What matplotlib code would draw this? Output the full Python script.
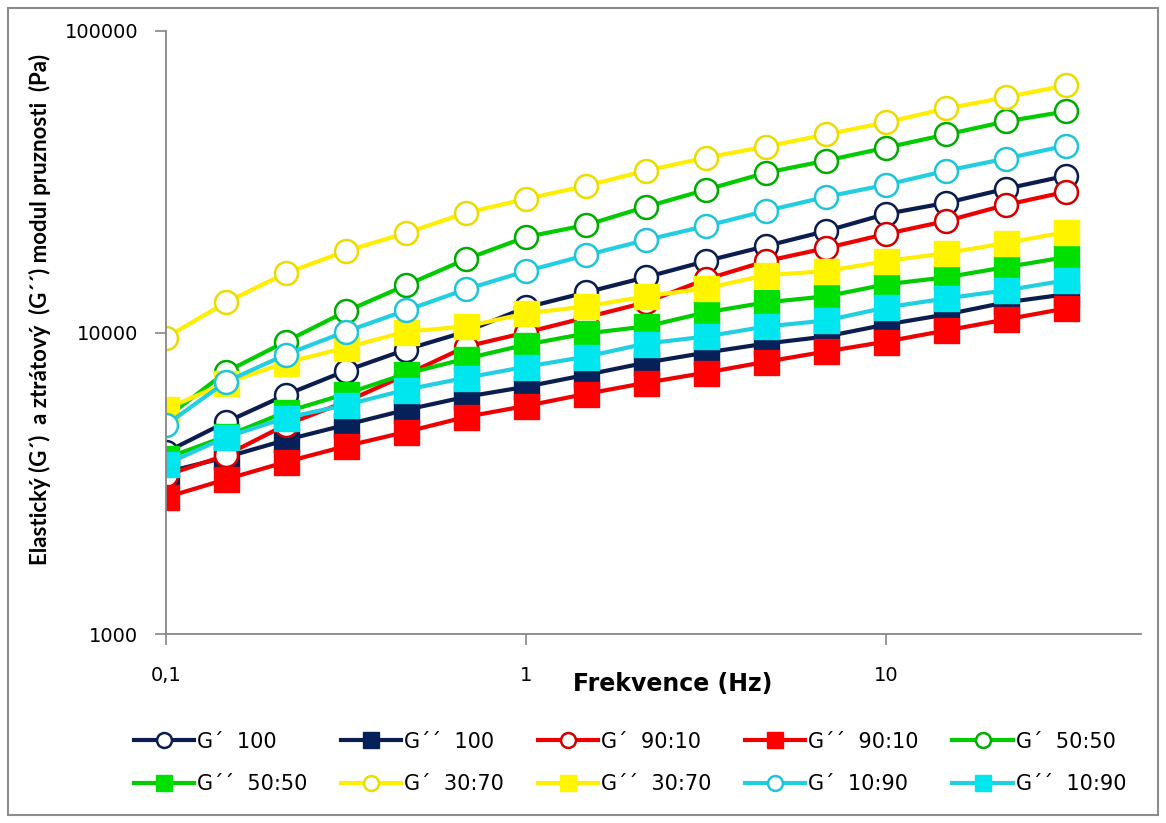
import matplotlib
matplotlib.use("Agg")
import matplotlib.pyplot as plt
from matplotlib.patches import Rectangle

# frekvence (Hz), 16 bodu
freq = [0.1, 0.147, 0.215, 0.316, 0.464, 0.681, 1.0, 1.47, 2.15, 3.16,
        4.64, 6.81, 10.0, 14.7, 21.5, 31.6]

g1_100 = [4010, 5050, 6210, 7470, 8780, 10070, 12110, 13590, 15250, 17250,
          19350, 21710, 24740, 26920, 29970, 33110]
g2_100 = [3440, 3860, 4400, 4940, 5540, 6120, 6610, 7240, 7940, 8580,
          9190, 9700, 10630, 11480, 12590, 13390]
g1_9010 = [3360, 3920, 4940, 5890, 7240, 8980, 10000, 11220, 12590, 15020,
           17250, 19050, 21230, 23440, 26500, 29290]
g2_9010 = [2840, 3260, 3720, 4200, 4680, 5250, 5710, 6260, 6810, 7360,
           8000, 8650, 9330, 10160, 11050, 12020]
g1_5050 = [5210, 7410, 9330, 11750, 14350, 17510, 20740, 22730, 26100, 29740,
           33880, 37150, 41040, 45370, 50120, 54120]
g2_5050 = [3830, 4530, 5450, 6260, 7300, 8190, 9120, 9930, 10470, 11660,
           12590, 13180, 14450, 15250, 16480, 17780]
g1_3070 = [9620, 12590, 15730, 18620, 21380, 24930, 27740, 30670, 34410, 38020,
           41380, 45370, 49770, 55340, 60260, 66070]
g2_3070 = [5580, 6810, 7940, 8910, 10070, 10470, 11570, 12210, 13180, 14020,
           15490, 15980, 17250, 18340, 19800, 21540]
g1_1090 = [4940, 6870, 8450, 10070, 11840, 13910, 15980, 18060, 20260, 22560,
           25320, 28180, 30900, 34410, 37740, 41690]
g2_1090 = [3660, 4500, 5210, 5750, 6460, 7080, 7700, 8320, 9190, 9700,
           10470, 10960, 12110, 12980, 13800, 14900]

labels = ["G´  100", "G´´  100", "G´  90:10", "G´´  90:10", "G´  50:50",
          "G´´  50:50", "G´  30:70", "G´´  30:70", "G´  10:90", "G´´  10:90"]
series = [g1_100, g2_100, g1_9010, g2_9010, g1_5050,
          g2_5050, g1_3070, g2_3070, g1_1090, g2_1090]

# (barva cary, okraj kolecka, vypln ctverce)
colors = [("#0B1C4E", "#0B1C4E", None), ("#0B1C4E", None, "#06205A"),
          ("#EE0000", "#D00000", None), ("#EE0000", None, "#FF0000"),
          ("#00CC00", "#00AA00", None), ("#00CC00", None, "#00E000"),
          ("#FFEE00", "#EADB00", None), ("#FFEE00", None, "#FFF500"),
          ("#22CFE0", "#20C4D8", None), ("#22CFE0", None, "#00E6EE")]

fig = plt.figure(figsize=(11.66, 8.23), dpi=100)
ax = fig.add_axes([166/1166, 1-634/823, (1141-166)/1166, (634-31)/823])

handles = []
for vals, lab, (lc, ce, sq) in zip(series, labels, colors):
    if sq is None:
        ln, = ax.plot(freq, vals, color=lc, lw=3, marker="o", ms=16.5,
                      mfc="white", mec=ce, mew=1.8, label=lab)
    else:
        ln, = ax.plot(freq, vals, color=lc, lw=3, marker="s", ms=18,
                      mfc=sq, mec=sq, mew=1, label=lab)
    handles.append(ln)

ax.set_xscale("log")
ax.set_yscale("log")
ax.set_xlim(0.1, 51)
ax.set_ylim(1000, 100000)

ax.set_xticks([0.1, 1, 10])
ax.set_xticklabels(["0,1", "1", "10"])
ax.set_yticks([1000, 10000, 100000])
ax.set_yticklabels(["1000", "10000", "100000"])
ax.minorticks_off()
ax.tick_params(axis="both", direction="out", length=8, width=1.2,
               color="#868686", labelsize=14, labelcolor="black")
ax.tick_params(axis="y", pad=12)
ax.tick_params(axis="x", pad=15)

for s in ["top", "right"]:
    ax.spines[s].set_visible(False)
for s in ["left", "bottom"]:
    ax.spines[s].set_color("#868686")
    ax.spines[s].set_linewidth(1.3)

fig.text(673/1166, 1-684/823, "Frekvence (Hz)", ha="center", va="center",
         fontsize=17, fontweight="bold", family="DejaVu Sans")
fig.text(40/1166, 1-309/823, "Elastický (G´)  a ztrátový  (G´´) modul pruznosti  (Pa)",
         ha="center", va="center", rotation=90, fontsize=16,
         fontweight="bold", family=["Lato", "DejaVu Sans"])

# legenda po radcich: matplotlib plni sloupce, proto preskladat
order = [0, 5, 1, 6, 2, 7, 3, 8, 4, 9]
leg = fig.legend(handles=[handles[i] for i in order], loc="center", ncol=5,
                 bbox_to_anchor=(630/1166, 1-763/823), frameon=False,
                 fontsize=15, handlelength=2.9, handletextpad=0.15,
                 columnspacing=1.6, labelspacing=1.1, markerscale=0.65)

fig.patches.append(Rectangle((8/1166, 1-815/823), 1150/1166, 807/823,
                             transform=fig.transFigure, fill=False,
                             edgecolor="#8C8C8C", lw=1.5))

fig.savefig("out.png", dpi=100)
